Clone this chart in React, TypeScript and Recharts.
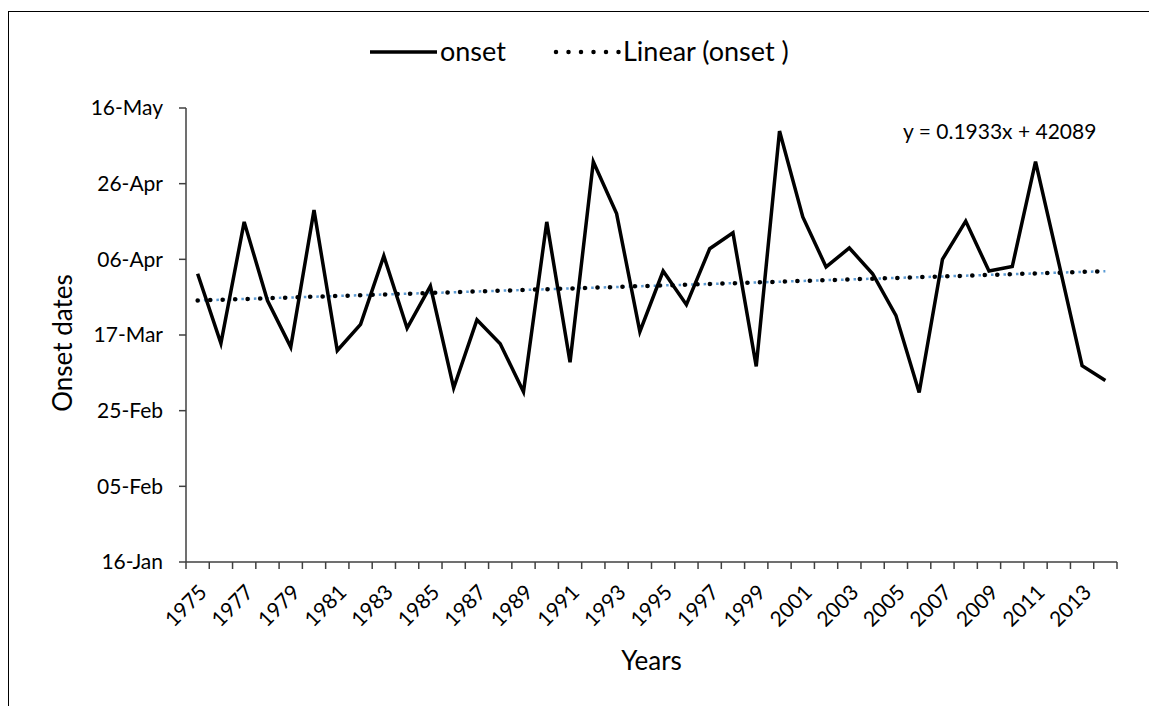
import { LineChart, Line, XAxis, YAxis, ReferenceLine } from 'recharts'

// onset day of year (16 = 16-Jan ... 136 = 16-May)
const YEARS = [
  1975, 1976, 1977, 1978, 1979, 1980, 1981, 1982, 1983, 1984,
  1985, 1986, 1987, 1988, 1989, 1990, 1991, 1992, 1993, 1994,
  1995, 1996, 1997, 1998, 1999, 2000, 2001, 2002, 2003, 2004,
  2005, 2006, 2007, 2008, 2009, 2010, 2011, 2012, 2013, 2014,
]
const ONSET = [
  92.2, 73.8, 105.9, 85.1, 72.8, 109, 71.9, 78.8, 96.9, 77.8,
  88.9, 62, 80, 73.7, 61, 105.9, 68.8, 121.8, 108.1, 76.9,
  92.9, 84, 98.8, 103, 67.7, 129.9, 107.2, 94, 99, 92.2,
  81.2, 60.8, 96, 106.1, 92.9, 94.1, 121.8, 95, 67.9, 64,
]
const Y_TICKS = [16, 36, 56, 76, 96, 116, 136]
const Y_TICK_LABELS = ['16-Jan', '05-Feb', '25-Feb', '17-Mar', '06-Apr', '26-Apr', '16-May']
const YEAR_LABELS = YEARS.filter((_, i) => i % 2 === 0)
const EQUATION = 'y = 0.1933x + 42089'

const data = YEARS.map((year, i) => ({ year, onset: ONSET[i] }))

// category boundaries, where Excel puts its tick marks
const X_BOUNDS = [...YEARS.map(y => y - 0.5), YEARS[YEARS.length - 1] + 0.5]

// least squares fit, same as Excel's linear trendline
function linearFit(ys: number[]) {
  const n = ys.length
  const xs = ys.map((_, i) => i + 1)
  const mx = xs.reduce((a, b) => a + b, 0) / n
  const my = ys.reduce((a, b) => a + b, 0) / n
  let num = 0
  let den = 0
  xs.forEach((x, i) => {
    num += (x - mx) * (ys[i] - my)
    den += (x - mx) * (x - mx)
  })
  const slope = num / den
  return { slope, intercept: my - slope * mx }
}

const fit = linearFit(ONSET)
const trendSegment = [
  { x: YEARS[0], y: fit.intercept + fit.slope * 1 },
  { x: YEARS[YEARS.length - 1], y: fit.intercept + fit.slope * YEARS.length },
]

const FONT = 'Lato, "Open Sans", sans-serif'
const AXIS_COLOR = '#404040'
const X_DOMAIN = [X_BOUNDS[0], X_BOUNDS[X_BOUNDS.length - 1]]

export default function App() {
  return (
    <div style={{ position: 'absolute', left: 0, top: 0, width: 1149, height: 706, overflow: 'hidden', background: '#fff' }}>
      <div
        style={{
          position: 'absolute',
          left: 8,
          top: 11,
          width: 1141,
          height: 695,
          borderLeft: '1.5px solid #000',
          borderTop: '1.5px solid #000',
        }}
      />
      <div style={{ position: 'absolute', left: 0, top: 0 }}>
        <LineChart
          width={1149}
          height={706}
          data={data}
          margin={{ top: 108, right: 32, left: 86, bottom: 54 }}
          style={{ fontFamily: FONT }}
        >
          <XAxis
            xAxisId="yearLabels"
            dataKey="year"
            type="number"
            domain={X_DOMAIN}
            allowDataOverflow
            ticks={YEAR_LABELS}
            interval={0}
            height={80}
            axisLine={false}
            tickLine={false}
            tickSize={0}
            tickMargin={11}
            angle={-45}
            textAnchor="end"
            tick={{ fontSize: 21, fill: '#000', fontFamily: FONT }}
          />
          <XAxis
            xAxisId="axis"
            dataKey="year"
            type="number"
            domain={X_DOMAIN}
            allowDataOverflow
            ticks={X_BOUNDS}
            interval={0}
            height={10}
            tickFormatter={() => ''}
            tickSize={7}
            axisLine={{ stroke: AXIS_COLOR, strokeWidth: 1.5 }}
            tickLine={{ stroke: AXIS_COLOR, strokeWidth: 1.5 }}
          />
          <YAxis
            domain={[16, 136]}
            ticks={Y_TICKS}
            interval={0}
            width={100}
            tickSize={7}
            tickMargin={16}
            tickFormatter={v => Y_TICK_LABELS[Y_TICKS.indexOf(v)] ?? ''}
            tick={{ fontSize: 21, fill: '#000', fontFamily: FONT }}
            axisLine={{ stroke: AXIS_COLOR, strokeWidth: 1.5 }}
            tickLine={{ stroke: AXIS_COLOR, strokeWidth: 1.5 }}
          />
          <ReferenceLine
            xAxisId="axis"
            segment={trendSegment}
            stroke="#5b9bd5"
            strokeWidth={2.5}
            strokeDasharray="2.5 3.75"
            ifOverflow="visible"
          />
          <ReferenceLine
            xAxisId="axis"
            segment={trendSegment}
            stroke="#000"
            strokeWidth={4.5}
            strokeLinecap="round"
            strokeDasharray="0 12.5"
            ifOverflow="visible"
          />
          <Line
            xAxisId="axis"
            type="linear"
            dataKey="onset"
            stroke="#000"
            strokeWidth={3.5}
            dot={false}
            activeDot={false}
            isAnimationActive={false}
          />
        </LineChart>
      </div>
      <svg
        width={1149}
        height={706}
        style={{ position: 'absolute', left: 0, top: 0, pointerEvents: 'none', fontFamily: FONT }}
      >
        {/* legend */}
        <line x1={370} y1={52} x2={437} y2={52} stroke="#000" strokeWidth={3.5} />
        <text x={440} y={61} fontSize={27} fill="#000">onset</text>
        <line
          x1={556}
          y1={52}
          x2={619}
          y2={52}
          stroke="#000"
          strokeWidth={4.5}
          strokeLinecap="round"
          strokeDasharray="0 12.5"
        />
        <text x={623} y={61} fontSize={27} fill="#000">Linear (onset )</text>

        <text x={903} y={139} fontSize={21} fill="#000">{EQUATION}</text>

        <text x={651.5} y={670} fontSize={26} fill="#000" textAnchor="middle">Years</text>
        <text
          x={72}
          y={343}
          fontSize={26}
          fill="#000"
          textAnchor="middle"
          transform="rotate(-90 72 343)"
        >
          Onset dates
        </text>
      </svg>
    </div>
  )
}
